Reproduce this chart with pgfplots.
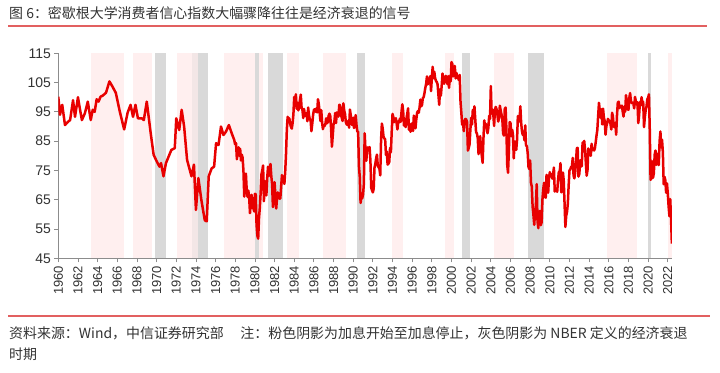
\documentclass[border=0pt]{standalone}
\usepackage{fontspec}
\setmainfont{Liberation Sans}
\newfontfamily\cjk{Noto Sans CJK SC}
\usepackage{pgfplots}
\usepackage{pgfplotstable}
\pgfplotsset{compat=1.18}
\definecolor{linered}{RGB}{232,0,0}
\definecolor{pinkc}{RGB}{255,239,239}
\definecolor{pinkd}{RGB}{243,230,230}
\definecolor{grayc}{RGB}{217,217,217}
\definecolor{rulered}{RGB}{226,96,96}
\definecolor{axgray}{RGB}{140,140,140}
\definecolor{txt}{RGB}{51,51,51}

\pgfplotstableread{
t v
1960.00 100.2
1960.17 94.0
1960.40 97.4
1960.68 90.5
1960.95 91.5
1961.20 92.2
1961.50 99.0
1961.70 93.3
1962.00 100.0
1962.20 96.0
1962.40 92.2
1962.70 94.5
1963.00 98.5
1963.30 92.2
1963.50 95.7
1963.70 95.0
1963.90 99.3
1964.10 98.5
1964.30 100.2
1964.50 100.5
1964.85 101.5
1965.20 105.4
1965.50 103.7
1965.85 101.5
1966.25 95.2
1966.70 89.0
1967.05 94.7
1967.35 97.4
1967.60 93.3
1967.85 97.4
1968.10 92.8
1968.50 92.8
1968.70 92.2
1969.00 98.5
1969.40 87.7
1969.70 80.3
1970.10 77.5
1970.30 76.3
1970.45 77.5
1970.70 73.0
1970.95 77.5
1971.50 82.0
1971.85 82.6
1972.00 92.8
1972.30 88.8
1972.55 95.7
1972.80 90.0
1973.10 78.6
1973.55 73.0
1973.80 77.0
1974.00 61.5
1974.25 72.4
1974.55 65.0
1974.90 58.0
1975.10 57.6
1975.30 73.0
1975.60 75.7
1975.85 76.3
1976.05 84.3
1976.30 83.7
1976.55 90.0
1976.80 87.1
1977.05 88.2
1977.35 90.5
1977.65 87.6
1977.90 85.4
1978.00 83.7
}\earlydata

\pgfplotstableread[row sep=\\]{
yr mo v\\
1978 1 83.7\\ 1978 2 84.3\\ 1978 3 78.8\\ 1978 4 81.6\\ 1978 5 82.9\\ 1978 6 80.0\\ 1978 7 82.4\\ 1978 8 78.4\\ 1978 9 80.4\\ 1978 10 79.3\\ 1978 11 75.0\\ 1978 12 66.1\\
1979 1 72.1\\ 1979 2 73.9\\ 1979 3 68.4\\ 1979 4 66.0\\ 1979 5 68.1\\ 1979 6 65.8\\ 1979 7 60.4\\ 1979 8 64.5\\ 1979 9 66.7\\ 1979 10 62.1\\ 1979 11 63.3\\ 1979 12 61.0\\
1980 1 67.0\\ 1980 2 66.9\\ 1980 3 56.5\\ 1980 4 52.7\\ 1980 5 51.7\\ 1980 6 58.7\\ 1980 7 62.3\\ 1980 8 67.3\\ 1980 9 73.7\\ 1980 10 75.0\\ 1980 11 76.7\\ 1980 12 64.5\\
1981 1 71.4\\ 1981 2 66.9\\ 1981 3 66.5\\ 1981 4 72.4\\ 1981 5 76.3\\ 1981 6 73.1\\ 1981 7 74.1\\ 1981 8 77.2\\ 1981 9 73.1\\ 1981 10 70.3\\ 1981 11 62.5\\ 1981 12 64.3\\
1982 1 71.0\\ 1982 2 66.5\\ 1982 3 62.0\\ 1982 4 65.5\\ 1982 5 67.5\\ 1982 6 65.7\\ 1982 7 65.4\\ 1982 8 65.4\\ 1982 9 69.3\\ 1982 10 73.4\\ 1982 11 72.1\\ 1982 12 71.9\\
1983 1 70.4\\ 1983 2 74.6\\ 1983 3 80.8\\ 1983 4 89.1\\ 1983 5 93.3\\ 1983 6 92.2\\ 1983 7 92.8\\ 1983 8 90.9\\ 1983 9 89.9\\ 1983 10 89.3\\ 1983 11 91.1\\ 1983 12 94.2\\
1984 1 100.1\\ 1984 2 97.4\\ 1984 3 101.0\\ 1984 4 96.1\\ 1984 5 98.1\\ 1984 6 95.5\\ 1984 7 96.6\\ 1984 8 99.1\\ 1984 9 100.9\\ 1984 10 96.3\\ 1984 11 95.7\\ 1984 12 92.9\\
1985 1 96.0\\ 1985 2 93.7\\ 1985 3 93.7\\ 1985 4 94.6\\ 1985 5 91.8\\ 1985 6 96.5\\ 1985 7 94.0\\ 1985 8 92.4\\ 1985 9 92.1\\ 1985 10 88.4\\ 1985 11 90.9\\ 1985 12 93.9\\
1986 1 95.6\\ 1986 2 95.9\\ 1986 3 95.1\\ 1986 4 96.2\\ 1986 5 94.8\\ 1986 6 99.3\\ 1986 7 97.7\\ 1986 8 94.9\\ 1986 9 91.9\\ 1986 10 95.6\\ 1986 11 91.4\\ 1986 12 89.1\\
1987 1 90.4\\ 1987 2 90.2\\ 1987 3 90.8\\ 1987 4 92.8\\ 1987 5 91.1\\ 1987 6 91.5\\ 1987 7 93.7\\ 1987 8 94.4\\ 1987 9 93.6\\ 1987 10 89.3\\ 1987 11 83.1\\ 1987 12 86.8\\
1988 1 90.8\\ 1988 2 91.6\\ 1988 3 94.6\\ 1988 4 91.2\\ 1988 5 94.8\\ 1988 6 94.7\\ 1988 7 93.4\\ 1988 8 97.4\\ 1988 9 97.3\\ 1988 10 94.1\\ 1988 11 93.0\\ 1988 12 91.9\\
1989 1 97.9\\ 1989 2 95.4\\ 1989 3 94.3\\ 1989 4 91.5\\ 1989 5 90.7\\ 1989 6 90.6\\ 1989 7 92.0\\ 1989 8 89.6\\ 1989 9 95.8\\ 1989 10 93.9\\ 1989 11 90.9\\ 1989 12 90.5\\
1990 1 93.0\\ 1990 2 89.5\\ 1990 3 91.3\\ 1990 4 93.9\\ 1990 5 90.6\\ 1990 6 88.3\\ 1990 7 88.2\\ 1990 8 76.4\\ 1990 9 72.8\\ 1990 10 63.9\\ 1990 11 66.0\\ 1990 12 65.5\\
1991 1 66.8\\ 1991 2 70.4\\ 1991 3 87.7\\ 1991 4 81.8\\ 1991 5 78.3\\ 1991 6 82.1\\ 1991 7 82.9\\ 1991 8 82.0\\ 1991 9 83.0\\ 1991 10 78.3\\ 1991 11 69.1\\ 1991 12 68.2\\
1992 1 67.5\\ 1992 2 68.8\\ 1992 3 76.0\\ 1992 4 77.2\\ 1992 5 79.2\\ 1992 6 80.4\\ 1992 7 76.6\\ 1992 8 76.1\\ 1992 9 75.6\\ 1992 10 73.3\\ 1992 11 85.3\\ 1992 12 91.0\\
1993 1 89.3\\ 1993 2 86.6\\ 1993 3 85.9\\ 1993 4 85.6\\ 1993 5 80.3\\ 1993 6 81.5\\ 1993 7 77.0\\ 1993 8 77.3\\ 1993 9 77.9\\ 1993 10 82.7\\ 1993 11 81.2\\ 1993 12 88.2\\
1994 1 94.3\\ 1994 2 93.2\\ 1994 3 91.5\\ 1994 4 92.6\\ 1994 5 92.8\\ 1994 6 91.2\\ 1994 7 89.0\\ 1994 8 91.7\\ 1994 9 91.5\\ 1994 10 92.7\\ 1994 11 91.6\\ 1994 12 95.1\\
1995 1 97.6\\ 1995 2 95.1\\ 1995 3 90.3\\ 1995 4 92.5\\ 1995 5 89.8\\ 1995 6 92.7\\ 1995 7 94.4\\ 1995 8 96.2\\ 1995 9 88.9\\ 1995 10 90.2\\ 1995 11 88.2\\ 1995 12 91.0\\
1996 1 89.3\\ 1996 2 88.5\\ 1996 3 93.7\\ 1996 4 92.7\\ 1996 5 89.4\\ 1996 6 92.4\\ 1996 7 94.7\\ 1996 8 95.3\\ 1996 9 94.7\\ 1996 10 96.5\\ 1996 11 99.2\\ 1996 12 96.9\\
1997 1 97.4\\ 1997 2 99.7\\ 1997 3 100.0\\ 1997 4 101.4\\ 1997 5 103.2\\ 1997 6 104.5\\ 1997 7 107.1\\ 1997 8 104.4\\ 1997 9 106.0\\ 1997 10 105.6\\ 1997 11 107.2\\ 1997 12 102.1\\
1998 1 106.6\\ 1998 2 110.4\\ 1998 3 106.5\\ 1998 4 108.7\\ 1998 5 106.5\\ 1998 6 105.6\\ 1998 7 105.2\\ 1998 8 104.4\\ 1998 9 100.9\\ 1998 10 97.4\\ 1998 11 102.7\\ 1998 12 100.5\\
1999 1 103.9\\ 1999 2 108.1\\ 1999 3 105.7\\ 1999 4 104.6\\ 1999 5 106.8\\ 1999 6 107.3\\ 1999 7 106.0\\ 1999 8 104.5\\ 1999 9 107.2\\ 1999 10 103.2\\ 1999 11 107.2\\ 1999 12 105.4\\
2000 1 112.0\\ 2000 2 111.3\\ 2000 3 107.1\\ 2000 4 109.2\\ 2000 5 110.7\\ 2000 6 106.4\\ 2000 7 108.3\\ 2000 8 107.3\\ 2000 9 106.8\\ 2000 10 105.8\\ 2000 11 107.6\\ 2000 12 98.4\\
2001 1 94.7\\ 2001 2 90.6\\ 2001 3 91.5\\ 2001 4 88.4\\ 2001 5 92.0\\ 2001 6 92.6\\ 2001 7 92.4\\ 2001 8 91.5\\ 2001 9 81.8\\ 2001 10 82.7\\ 2001 11 83.9\\ 2001 12 88.8\\
2002 1 93.0\\ 2002 2 90.7\\ 2002 3 95.7\\ 2002 4 93.0\\ 2002 5 96.9\\ 2002 6 92.4\\ 2002 7 88.1\\ 2002 8 87.6\\ 2002 9 86.1\\ 2002 10 80.6\\ 2002 11 84.2\\ 2002 12 86.7\\
2003 1 82.4\\ 2003 2 79.9\\ 2003 3 77.6\\ 2003 4 86.0\\ 2003 5 92.1\\ 2003 6 89.7\\ 2003 7 90.9\\ 2003 8 89.3\\ 2003 9 87.7\\ 2003 10 89.6\\ 2003 11 93.7\\ 2003 12 92.6\\
2004 1 103.8\\ 2004 2 94.4\\ 2004 3 95.8\\ 2004 4 94.2\\ 2004 5 90.2\\ 2004 6 95.6\\ 2004 7 96.7\\ 2004 8 95.9\\ 2004 9 94.2\\ 2004 10 91.7\\ 2004 11 92.8\\ 2004 12 97.1\\
2005 1 95.5\\ 2005 2 94.1\\ 2005 3 92.6\\ 2005 4 87.7\\ 2005 5 86.9\\ 2005 6 96.0\\ 2005 7 96.5\\ 2005 8 89.1\\ 2005 9 76.9\\ 2005 10 74.2\\ 2005 11 81.6\\ 2005 12 91.5\\
2006 1 91.2\\ 2006 2 86.7\\ 2006 3 88.9\\ 2006 4 87.4\\ 2006 5 79.1\\ 2006 6 84.9\\ 2006 7 84.7\\ 2006 8 82.0\\ 2006 9 85.4\\ 2006 10 93.6\\ 2006 11 92.1\\ 2006 12 91.7\\
2007 1 96.9\\ 2007 2 91.3\\ 2007 3 88.4\\ 2007 4 87.1\\ 2007 5 88.3\\ 2007 6 85.3\\ 2007 7 90.4\\ 2007 8 83.4\\ 2007 9 83.4\\ 2007 10 80.9\\ 2007 11 76.1\\ 2007 12 75.5\\
2008 1 78.4\\ 2008 2 70.8\\ 2008 3 69.5\\ 2008 4 62.6\\ 2008 5 59.8\\ 2008 6 56.4\\ 2008 7 61.2\\ 2008 8 63.0\\ 2008 9 70.3\\ 2008 10 57.6\\ 2008 11 55.3\\ 2008 12 60.1\\
2009 1 61.2\\ 2009 2 56.3\\ 2009 3 57.3\\ 2009 4 65.1\\ 2009 5 68.7\\ 2009 6 70.8\\ 2009 7 66.0\\ 2009 8 65.7\\ 2009 9 73.5\\ 2009 10 70.6\\ 2009 11 67.4\\ 2009 12 72.5\\
2010 1 74.4\\ 2010 2 73.6\\ 2010 3 73.6\\ 2010 4 72.2\\ 2010 5 73.6\\ 2010 6 76.0\\ 2010 7 67.8\\ 2010 8 68.9\\ 2010 9 68.2\\ 2010 10 67.7\\ 2010 11 71.6\\ 2010 12 74.5\\
2011 1 74.2\\ 2011 2 77.5\\ 2011 3 67.5\\ 2011 4 69.8\\ 2011 5 74.3\\ 2011 6 71.5\\ 2011 7 63.7\\ 2011 8 55.7\\ 2011 9 59.5\\ 2011 10 60.8\\ 2011 11 63.7\\ 2011 12 69.9\\
2012 1 75.0\\ 2012 2 75.3\\ 2012 3 76.2\\ 2012 4 76.4\\ 2012 5 79.3\\ 2012 6 73.2\\ 2012 7 72.3\\ 2012 8 74.3\\ 2012 9 78.3\\ 2012 10 82.6\\ 2012 11 82.7\\ 2012 12 72.9\\
2013 1 73.8\\ 2013 2 77.6\\ 2013 3 78.6\\ 2013 4 76.4\\ 2013 5 84.5\\ 2013 6 84.1\\ 2013 7 85.1\\ 2013 8 82.1\\ 2013 9 77.5\\ 2013 10 73.2\\ 2013 11 75.1\\ 2013 12 82.5\\
2014 1 81.2\\ 2014 2 81.6\\ 2014 3 80.0\\ 2014 4 84.1\\ 2014 5 81.9\\ 2014 6 82.5\\ 2014 7 81.8\\ 2014 8 82.5\\ 2014 9 84.6\\ 2014 10 86.9\\ 2014 11 88.8\\ 2014 12 93.6\\
2015 1 98.1\\ 2015 2 95.4\\ 2015 3 93.0\\ 2015 4 95.9\\ 2015 5 90.7\\ 2015 6 96.1\\ 2015 7 93.1\\ 2015 8 91.9\\ 2015 9 87.2\\ 2015 10 90.0\\ 2015 11 91.3\\ 2015 12 92.6\\
2016 1 92.0\\ 2016 2 91.7\\ 2016 3 91.0\\ 2016 4 89.0\\ 2016 5 94.7\\ 2016 6 93.5\\ 2016 7 90.0\\ 2016 8 89.8\\ 2016 9 91.2\\ 2016 10 87.2\\ 2016 11 93.8\\ 2016 12 98.2\\
2017 1 98.5\\ 2017 2 96.3\\ 2017 3 96.9\\ 2017 4 97.0\\ 2017 5 97.1\\ 2017 6 95.1\\ 2017 7 93.4\\ 2017 8 96.8\\ 2017 9 95.1\\ 2017 10 100.7\\ 2017 11 98.5\\ 2017 12 95.9\\
2018 1 95.7\\ 2018 2 99.7\\ 2018 3 101.4\\ 2018 4 98.8\\ 2018 5 98.0\\ 2018 6 98.2\\ 2018 7 97.9\\ 2018 8 96.2\\ 2018 9 100.1\\ 2018 10 98.6\\ 2018 11 97.5\\ 2018 12 98.3\\
2019 1 91.2\\ 2019 2 93.8\\ 2019 3 98.4\\ 2019 4 97.2\\ 2019 5 100.0\\ 2019 6 98.2\\ 2019 7 98.4\\ 2019 8 89.8\\ 2019 9 93.2\\ 2019 10 95.5\\ 2019 11 96.8\\ 2019 12 99.3\\
2020 1 99.8\\ 2020 2 101.0\\ 2020 3 89.1\\ 2020 4 71.8\\ 2020 5 72.3\\ 2020 6 78.1\\ 2020 7 72.5\\ 2020 8 74.1\\ 2020 9 80.4\\ 2020 10 81.8\\ 2020 11 76.9\\ 2020 12 80.7\\
2021 1 79.0\\ 2021 2 76.8\\ 2021 3 84.9\\ 2021 4 88.3\\ 2021 5 82.9\\ 2021 6 85.5\\ 2021 7 81.2\\ 2021 8 70.3\\ 2021 9 72.8\\ 2021 10 71.7\\ 2021 11 67.4\\ 2021 12 70.6\\
2022 1 67.2\\ 2022 2 62.8\\ 2022 3 59.4\\ 2022 4 65.2\\ 2022 5 58.4\\ 2022 6 50.0\\
}\monthly

\begin{document}
\begin{tikzpicture}
\useasboundingbox (0,0) rectangle (720bp,373bp);
\fill[white] (0,0) rectangle (720bp,373bp);
% title
\node[anchor=west, inner sep=0pt, text=txt] at (9bp,360bp) {\cjk\fontsize{14}{16}\selectfont 图 6：密歇根大学消费者信心指数大幅骤降往往是经济衰退的信号};
\draw[rulered, line width=1.3bp] (8bp,347bp) -- (707bp,347bp);
% footer
\draw[rulered, line width=1.3bp] (8bp,57bp) -- (710bp,57bp);
\node[anchor=west, inner sep=0pt, text=txt] at (9bp,40bp) {\cjk\fontsize{14}{16}\selectfont 资料来源：Wind，中信证券研究部\hspace{1.2em}注：粉色阴影为加息开始至加息停止，灰色阴影为 NBER 定义的经济衰退};
\node[anchor=west, inner sep=0pt, text=txt] at (9bp,19bp) {\cjk\fontsize{14}{16}\selectfont 时期};
\begin{axis}[
  at={(58.3bp,114.7bp)}, anchor=south west,
  scale only axis, width=613.6bp, height=205bp,
  xmin=1960, xmax=2022.42, ymin=45, ymax=115,
  axis x line*=bottom, axis y line*=left,
  axis line style={axgray, line width=0.8bp},
  tick style={axgray, line width=0.8bp},
  tick align=outside, major tick length=4bp,
  xtick={1960,1962,...,2022},
  ytick={45,55,...,115},
  /pgf/number format/assume math mode=true,
  /pgf/number format/1000 sep={},
  xticklabel style={rotate=90, anchor=east, font=\fontsize{13}{15}\selectfont, text=txt},
  yticklabel style={font=\fontsize{14}{16}\selectfont, text=txt},
  clip=true,
]
% rate-hike periods (pink)
\addplot[draw=none, fill=pinkc] coordinates {(1963.33,45) (1963.33,115) (1966.70,115) (1966.70,45)} -- cycle;
\addplot[draw=none, fill=pinkc] coordinates {(1967.60,45) (1967.60,115) (1969.50,115) (1969.50,45)} -- cycle;
\addplot[draw=none, fill=pinkc] coordinates {(1972.10,45) (1972.10,115) (1973.65,115) (1973.65,45)} -- cycle;
\addplot[draw=none, fill=pinkd] coordinates {(1973.65,45) (1973.65,115) (1974.25,115) (1974.25,45)} -- cycle;
\addplot[draw=none, fill=pinkc] coordinates {(1976.86,45) (1976.86,115) (1980.82,115) (1980.82,45)} -- cycle;
\addplot[draw=none, fill=pinkc] coordinates {(1983.23,45) (1983.23,115) (1984.49,115) (1984.49,45)} -- cycle;
\addplot[draw=none, fill=pinkc] coordinates {(1986.90,45) (1986.90,115) (1989.24,115) (1989.24,45)} -- cycle;
\addplot[draw=none, fill=pinkc] coordinates {(1993.98,45) (1993.98,115) (1995.03,115) (1995.03,45)} -- cycle;
\addplot[draw=none, fill=pinkc] coordinates {(1999.34,45) (1999.34,115) (2000.29,115) (2000.29,45)} -- cycle;
\addplot[draw=none, fill=pinkc] coordinates {(2004.35,45) (2004.35,115) (2006.36,115) (2006.36,45)} -- cycle;
\addplot[draw=none, fill=pinkc] coordinates {(2015.79,45) (2015.79,115) (2018.84,115) (2018.84,45)} -- cycle;
\addplot[draw=none, fill=pinkc] coordinates {(2022.05,45) (2022.05,115) (2022.42,115) (2022.42,45)} -- cycle;
% NBER recessions (gray)
\addplot[draw=none, fill=grayc] coordinates {(1969.80,45) (1969.80,115) (1970.97,115) (1970.97,45)} -- cycle;
\addplot[draw=none, fill=grayc] coordinates {(1974.25,45) (1974.25,115) (1975.22,115) (1975.22,45)} -- cycle;
\addplot[draw=none, fill=grayc] coordinates {(1980.05,45) (1980.05,115) (1980.45,115) (1980.45,45)} -- cycle;
\addplot[draw=none, fill=grayc] coordinates {(1981.38,45) (1981.38,115) (1982.83,115) (1982.83,45)} -- cycle;
\addplot[draw=none, fill=grayc] coordinates {(1990.37,45) (1990.37,115) (1991.20,115) (1991.20,45)} -- cycle;
\addplot[draw=none, fill=grayc] coordinates {(2001.05,45) (2001.05,115) (2001.83,115) (2001.83,45)} -- cycle;
\addplot[draw=none, fill=grayc] coordinates {(2007.81,45) (2007.81,115) (2009.41,115) (2009.41,45)} -- cycle;
\addplot[draw=none, fill=grayc] coordinates {(2019.96,45) (2019.96,115) (2020.30,115) (2020.30,45)} -- cycle;
% sentiment index
\addplot[linered, line width=2.5bp, line join=round, mark=none] table[x=t, y=v] {\earlydata};
\addplot[linered, line width=2.5bp, line join=round, mark=none] table[x expr=\thisrow{yr}+(\thisrow{mo}-1)/12, y=v] {\monthly};
\end{axis}
\end{tikzpicture}
\end{document}
